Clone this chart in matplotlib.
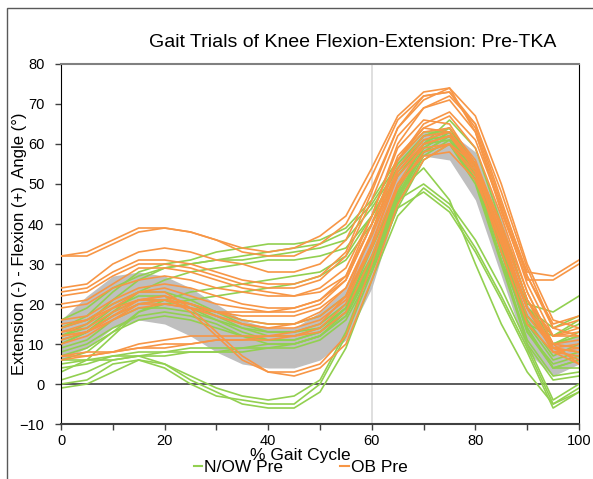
import matplotlib.pyplot as plt
from matplotlib.patches import Rectangle
from matplotlib.lines import Line2D

plt.rcParams['font.family'] = ['Liberation Sans', 'DejaVu Sans']

# % gait cycle sample points
gait = [0, 5, 10, 15, 20, 25, 30, 35, 40, 45, 50, 55, 60, 65, 70, 75, 80, 85, 90, 95, 100]

# normative band (lower / upper)
band_lo = [6, 9, 14, 16, 15, 12, 8, 5, 4, 4, 6, 11, 24, 45, 57, 56, 46, 27, 8, 2, 5]
band_hi = [16, 22, 27, 28, 27, 24, 20, 16, 14, 14, 18, 24, 38, 56, 63, 63, 58, 42, 20, 10, 12]

# N/OW Pre trials
green_trials = [
    [14, 17, 23, 28, 30, 31, 33, 34, 35, 35, 36, 39, 46, 56, 63, 63, 52, 33, 17, 10, 12],
    [12, 15, 21, 26, 29, 30, 31, 32, 33, 34, 35, 38, 45, 55, 62, 64, 54, 35, 19, 14, 17],
    [16, 19, 24, 27, 29, 30, 31, 31, 32, 33, 34, 36, 44, 54, 61, 62, 51, 31, 15, 12, 15],
    [10, 13, 18, 23, 26, 28, 29, 30, 31, 31, 32, 34, 42, 52, 60, 62, 53, 35, 20, 18, 22],
    [3, 6, 12, 18, 21, 23, 24, 25, 26, 27, 28, 32, 42, 54, 62, 64, 55, 37, 19, 12, 16],
    [6, 8, 13, 18, 20, 21, 22, 23, 24, 25, 27, 31, 40, 52, 60, 61, 51, 33, 17, 10, 13],
    [10, 13, 18, 21, 21, 19, 16, 13, 11, 11, 13, 18, 30, 46, 58, 62, 53, 33, 13, 5, 7],
    [12, 14, 19, 22, 22, 20, 17, 14, 12, 12, 14, 19, 31, 47, 59, 63, 54, 34, 14, 4, 6],
    [9, 11, 16, 19, 19, 18, 16, 14, 13, 13, 15, 20, 32, 48, 60, 64, 55, 35, 15, 6, 8],
    [14, 16, 20, 23, 23, 21, 18, 15, 13, 13, 14, 19, 31, 47, 59, 63, 55, 36, 16, 7, 10],
    [8, 10, 14, 17, 18, 17, 15, 12, 10, 10, 12, 17, 29, 45, 57, 61, 53, 34, 14, 4, 4],
    [5, 6, 6, 7, 7, 8, 8, 8, 9, 9, 11, 16, 28, 44, 56, 60, 51, 31, 11, 2, 3],
    [4, 5, 7, 8, 8, 9, 9, 9, 10, 10, 12, 17, 30, 46, 58, 62, 53, 33, 13, 4, 6],
    [6, 6, 7, 7, 8, 8, 8, 9, 9, 10, 12, 18, 31, 47, 58, 60, 50, 30, 10, 1, 2],
    [0, 1, 5, 6, 4, 0, -3, -4, -5, -5, 0, 12, 28, 44, 48, 43, 33, 21, 8, -6, -2],
    [-1, 0, 3, 6, 5, 1, -2, -5, -6, -6, -2, 9, 26, 42, 49, 44, 34, 22, 9, -5, -1],
    [1, 3, 6, 7, 5, 2, -1, -3, -4, -3, 1, 13, 30, 46, 50, 45, 36, 24, 10, -4, 0],
    [7, 9, 13, 16, 17, 16, 14, 12, 11, 11, 13, 19, 34, 48, 54, 46, 30, 15, 3, -5, -2],
    [11, 13, 17, 20, 21, 20, 18, 16, 15, 15, 17, 22, 34, 49, 60, 66, 59, 40, 21, 10, 12],
]

# OB Pre trials
orange_trials = [
    [32, 33, 36, 39, 39, 38, 36, 34, 33, 34, 37, 42, 54, 67, 73, 74, 63, 43, 26, 26, 30],
    [32, 32, 35, 38, 39, 38, 36, 33, 32, 32, 35, 40, 52, 66, 72, 73, 64, 45, 28, 27, 31],
    [24, 25, 30, 33, 34, 33, 31, 30, 28, 28, 30, 36, 49, 64, 72, 73, 65, 46, 27, 14, 16],
    [22, 23, 27, 30, 30, 29, 27, 25, 24, 24, 26, 32, 46, 62, 69, 71, 63, 44, 25, 12, 12],
    [20, 21, 25, 29, 29, 28, 26, 24, 23, 22, 23, 27, 40, 56, 65, 68, 61, 44, 27, 15, 17],
    [19, 20, 24, 26, 27, 26, 24, 23, 22, 22, 24, 29, 42, 59, 66, 65, 55, 35, 17, 9, 10],
    [15, 16, 20, 23, 24, 22, 20, 19, 18, 18, 20, 26, 40, 57, 64, 63, 53, 33, 15, 8, 9],
    [13, 14, 18, 21, 22, 20, 18, 17, 17, 17, 19, 24, 38, 54, 62, 63, 55, 37, 19, 10, 11],
    [12, 13, 17, 20, 20, 19, 18, 18, 18, 19, 21, 26, 40, 56, 63, 64, 56, 39, 21, 12, 14],
    [14, 16, 19, 21, 21, 19, 17, 15, 14, 15, 18, 24, 37, 53, 60, 62, 54, 38, 21, 12, 13],
    [10, 12, 16, 20, 21, 20, 18, 16, 15, 15, 17, 22, 35, 52, 59, 60, 53, 37, 19, 8, 7],
    [13, 15, 19, 23, 23, 19, 13, 7, 3, 3, 5, 12, 30, 50, 60, 62, 55, 39, 21, 9, 6],
    [11, 13, 17, 21, 22, 18, 12, 6, 3, 2, 4, 10, 26, 45, 56, 60, 55, 40, 23, 10, 5],
    [7, 8, 8, 9, 10, 10, 11, 11, 11, 12, 13, 18, 32, 49, 58, 60, 52, 35, 19, 8, 5],
    [6, 7, 8, 9, 9, 10, 11, 11, 12, 12, 14, 20, 35, 53, 61, 63, 54, 37, 19, 9, 8],
    [7, 7, 8, 10, 11, 12, 12, 12, 12, 13, 15, 22, 38, 56, 64, 67, 59, 42, 23, 10, 9],
    [16, 17, 21, 24, 25, 24, 22, 20, 19, 19, 21, 27, 42, 60, 69, 72, 65, 48, 29, 14, 12],
    [23, 24, 28, 31, 31, 30, 28, 26, 25, 25, 27, 33, 48, 64, 71, 74, 67, 50, 30, 16, 14],
    [12, 13, 16, 19, 20, 19, 17, 15, 14, 14, 16, 21, 34, 50, 57, 58, 51, 36, 19, 9, 8],
]

green = '#92D050'
orange = '#F79646'

fig = plt.figure(figsize=(5.93, 4.79), dpi=100)
ax = fig.add_axes([0.1029, 0.1148, 0.8735, 0.7516])

ax.fill_between(gait, band_lo, band_hi, color='#BFBFBF', lw=0, zorder=1)
ax.axvline(60, color='#D9D9D9', lw=1.2, zorder=0.5)
ax.axhline(0, color='#404040', lw=1.2, zorder=0.5)

for tr in green_trials:
    ax.plot(gait, tr, color=green, lw=1.2, zorder=2)
for tr in orange_trials:
    ax.plot(gait, tr, color=orange, lw=1.2, zorder=3)

ax.set_xlim(0, 100)
ax.set_ylim(-10, 80)
ax.set_xticks(range(0, 101, 20))
ax.set_xticks(range(0, 101, 10), minor=True)
ax.set_yticks(range(-10, 81, 10))
ax.tick_params(axis='both', labelsize=10.5, direction='out', length=4, width=1, colors='#404040',
               labelcolor='black')
ax.tick_params(axis='y', pad=8)
ax.tick_params(axis='x', which='minor', direction='out', length=4, width=1, colors='#404040')

for side in ['left', 'right']:
    ax.spines[side].set_color('black')
ax.spines['bottom'].set_color('#404040')
ax.spines['bottom'].set_linewidth(1.5)
ax.spines['top'].set_color('#808080')
ax.spines['top'].set_linewidth(1.5)

ax.set_ylabel('Extension (-) - Flexion (+)  Angle (°)', fontsize=12)
ax.yaxis.set_label_coords(-0.066, 0.5)
fig.text(0.506, 0.049, '% Gait Cycle', ha='center', va='center', fontsize=12.5)
fig.text(0.594, 0.912, 'Gait Trials of Knee Flexion-Extension: Pre-TKA', ha='center', va='center',
         fontsize=14)

handles = [Line2D([], [], color=green, lw=1.5), Line2D([], [], color=orange, lw=1.5)]
fig.legend(handles, ['N/OW Pre', 'OB Pre'], loc='center', bbox_to_anchor=(0.507, 0.024), ncol=2,
           frameon=False, fontsize=12.5, handlelength=0.5, handletextpad=0.1, columnspacing=3.3,
           borderpad=0)

fig.patches.append(Rectangle((7 / 593, -0.1), 1.2, 1.1 - 8 / 479, transform=fig.transFigure,
                             fill=False, edgecolor='#595959', lw=1))

fig.savefig('out.png', dpi=100)
